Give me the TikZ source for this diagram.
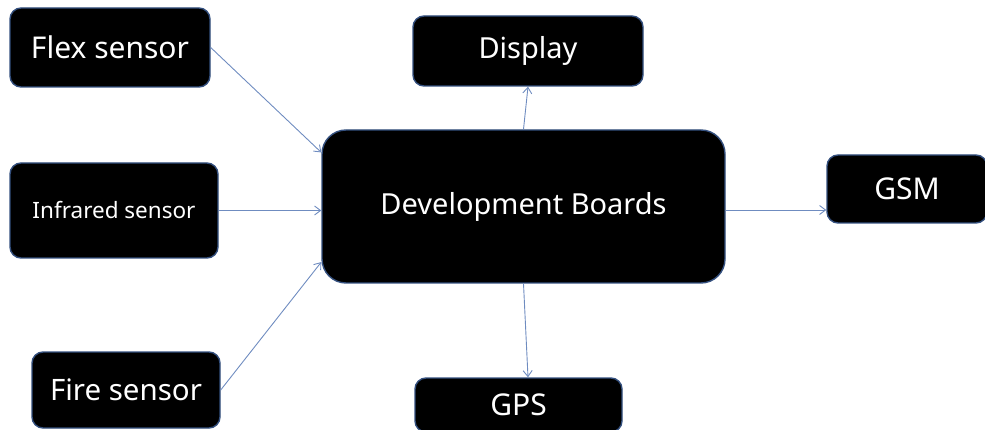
\documentclass[tikz,border=0pt]{standalone}
\usepackage{fontspec}
\setmainfont{Noto Sans}
\usetikzlibrary{calc,arrows.meta}
\definecolor{boxedge}{HTML}{34507F}
\definecolor{linkblue}{HTML}{6F8CC0}
\tikzset{
  block/.style={draw=boxedge, line width=1.4pt, fill=black, text=white,
    rounded corners=11pt, inner sep=0pt, align=center},
  link/.style={draw=linkblue, line width=0.9pt,
    -{Straight Barb[length=6pt,width=9pt,line width=0.9pt]}}
}
\begin{document}
\begin{tikzpicture}[x=1pt,y=-1pt]
  \useasboundingbox (0,0) rectangle (985,430);
  % input sensors on the left
  \node[block, minimum width=200pt, minimum height=79pt, font=\fontsize{30}{33}\selectfont] (flex) at (110,47.5) {Flex sensor};
  \node[block, minimum width=208pt, minimum height=95pt, font=\fontsize{22.5}{26}\selectfont] (infra) at (114,210.5) {Infrared sensor};
  \node[block, minimum width=188pt, minimum height=76pt, font=\fontsize{29.5}{33}\selectfont] (fire) at (126,390) {Fire sensor};
  % central board
  \node[block, rounded corners=24pt, minimum width=403pt, minimum height=153pt, font=\fontsize{29}{33}\selectfont] (dev) at (523.5,206.5) {Development Boards};
  % outputs
  \node[block, minimum width=230pt, minimum height=70pt, font=\fontsize{29}{33}\selectfont] (disp) at (528,51) {Display};
  \node[block, minimum width=160pt, minimum height=68pt, font=\fontsize{30}{33}\selectfont] (gsm) at (907,189) {GSM};
  \node[block, minimum width=207pt, minimum height=54pt, font=\fontsize{30}{33}\selectfont] (gps) at (518.5,405) {GPS};
  % connectors
  \draw[link] (flex.east) -- ($(dev.north west)!0.15!(dev.south west)$);
  \draw[link] (infra.east) -- (dev.west |- infra.east);
  \draw[link] (fire.east) -- ($(dev.north west)!0.86!(dev.south west)$);
  \draw[link] (dev.north) -- (disp.south);
  \draw[link] (dev.south) -- ($(gps.north)+(9.5,0)$);
  \coordinate (gsmout) at ($(dev.east)+(0,3.5)$);
  \draw[link] (gsmout) -- (gsm.west |- gsmout);
\end{tikzpicture}
\end{document}
